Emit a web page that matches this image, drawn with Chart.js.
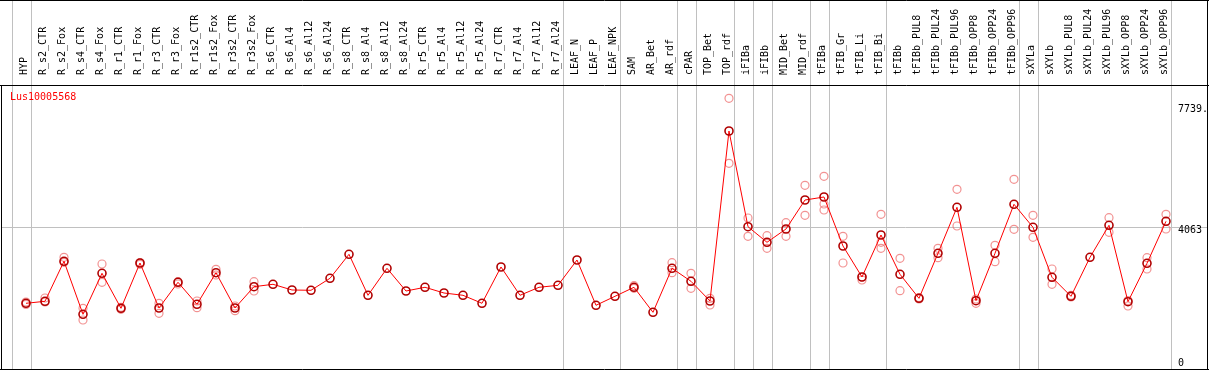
<!DOCTYPE html>
<html>
<head>
<meta charset="utf-8">
<script src="https://cdn.jsdelivr.net/npm/chart.js@4.4.0/dist/chart.umd.min.js"></script>
<style>
  body { margin: 0; background: #fff; }
  #wrap { width: 1209px; height: 370px; }
</style>
</head>
<body>
<div id="wrap"><canvas id="exprChart" width="1209" height="370"></canvas></div>
<script>
// sample names along the top
const categories = ['HYP', 'R_s2_CTR', 'R_s2_Fox', 'R_s4_CTR', 'R_s4_Fox', 'R_r1_CTR', 'R_r1_Fox',
  'R_r3_CTR', 'R_r3_Fox', 'R_r1s2_CTR', 'R_r1s2_Fox', 'R_r3s2_CTR', 'R_r3s2_Fox', 'R_s6_CTR',
  'R_s6_Al4', 'R_s6_Al12', 'R_s6_Al24', 'R_s8_CTR', 'R_s8_Al4', 'R_s8_Al12', 'R_s8_Al24',
  'R_r5_CTR', 'R_r5_Al4', 'R_r5_Al12', 'R_r5_Al24', 'R_r7_CTR', 'R_r7_Al4', 'R_r7_Al12',
  'R_r7_Al24', 'LEAF_N', 'LEAF_P', 'LEAF_NPK', 'SAM', 'AR_Bet', 'AR_rdf', 'cPAR', 'TOP_Bet',
  'TOP_rdf', 'iFIBa', 'iFIBb', 'MID_Bet', 'MID_rdf', 'tFIBa', 'tFIB_Gr', 'tFIB_Li', 'tFIB_Bi',
  'tFIBb', 'tFIBb_PUL8', 'tFIBb_PUL24', 'tFIBb_PUL96', 'tFIBb_OPP8', 'tFIBb_OPP24', 'tFIBb_OPP96',
  'sXYLa', 'sXYLb', 'sXYLb_PUL8', 'sXYLb_PUL24', 'sXYLb_PUL96', 'sXYLb_OPP8', 'sXYLb_OPP24',
  'sXYLb_OPP96'];

// how many samples sit in each group (separated by grey lines)
const groupSizes = [1, 28, 3, 3, 1, 2, 1, 1, 2, 1, 3, 7, 1, 7];

// mean expression per sample
const means = [1775, 1835, 3051, 1440, 2686, 1623, 2999, 1632, 2413, 1744, 2704, 1632, 2279, 2352,
  2179, 2170, 2534, 3263, 2018, 2838, 2148, 2261, 2087, 2018, 1775, 2878, 2018, 2261,
  2321, 3090, 1714, 1987, 2261, 1501, 2838, 2443, 1844,
  7010, 4102, 3628, 4032, 4913, 5005, 3516, 2574, 3850,
  2656, 1926, 3294, 4692, 1854, 3294, 4783,
  4084, 2565, 1987, 3172, 4145, 1823, 2990, 4266];

// replicate values (null where no replicate is shown)
const rep1 = [1814, 1936, 3172, 1623, 2969, 1653, 3008, 1775, 2431, 1844, 2808, 1692, 2431, null,
  null, null, null, null, null, null, null, null, null, null, null, null, null, null,
  null, null, null, null, 2309, null, 3008, 2686, 1926,
  8004, 4366, 3829, 4224, 5360, 5633, 3810, 2483, 4479,
  3142, 1951, 3446, 5239, 1775, 3537, 5542,
  4449, 2817, 2018, null, 4375, 1692, 3160, 4479];
const rep2 = [1738, 1814, 3020, 1267, 2413, 1592, 2960, 1471, 2361, 1641, 2634, 1550, 2148, null,
  null, null, null, null, null, null, null, null, null, null, null, null, null, null,
  null, null, null, null, 2230, null, 2704, 2230, 1723,
  6029, 3810, 3446, 3810, 4449, 4792, 2999, 2574, 3628,
  2157, 1905, 3160, 4123, 1905, 3039, 4023,
  3780, 2352, 1966, null, 3932, 1860, 2817, 4032];
const rep3 = [null, null, null, null, null, null, null, null, null, null, null, null, null, null,
  null, null, null, null, null, null, null, null, null, null, null, null, null, null,
  null, null, null, null, null, null, null, null, null,
  null, null, null, null, null, 4610, null, null, 3446,
  null, null, null, null, null, null, null,
  null, null, null, null, null, null, null, null];

const yTickValues = [0, 4063, 7739];
const yTickLabels = ['0', '4063', '7739.'];
const geneName = 'Lus10005568';

const MONO = '"DejaVu Sans Mono", "Liberation Mono", monospace';

function toPoints(arr) {
  return arr.map((v, i) => ({ x: i, y: v })).filter(p => p.y !== null);
}

function noPadding(scale) {
  scale.paddingLeft = 0;
  scale.paddingRight = 0;
  scale.paddingTop = 0;
  scale.paddingBottom = 0;
}

// frame, group separators, y labels and gene name
const decorPlugin = {
  id: 'decor',
  beforeDraw(chart) {
    const ctx = chart.ctx;
    ctx.save();
    ctx.fillStyle = '#fff';
    ctx.fillRect(0, 0, chart.width, chart.height);
    ctx.restore();
  },
  beforeDatasetsDraw(chart) {
    const ctx = chart.ctx;
    const xs = chart.scales.x;
    const area = chart.chartArea;
    ctx.save();
    ctx.strokeStyle = '#c0c0c0';
    ctx.lineWidth = 1;
    let idx = 0;
    const bounds = [-1];
    groupSizes.forEach(n => { idx += n; bounds.push(idx - 1); });
    bounds.forEach(b => {
      const px = Math.round(xs.getPixelForValue(b + 0.26)) + 0.5;
      ctx.beginPath();
      ctx.moveTo(px, 0);
      ctx.lineTo(px, area.bottom);
      ctx.stroke();
    });

    // frame
    ctx.strokeStyle = '#000';
    ctx.beginPath();
    ctx.moveTo(0, 0.5); ctx.lineTo(chart.width, 0.5);
    ctx.moveTo(0, area.top + 0.5); ctx.lineTo(chart.width, area.top + 0.5);
    ctx.moveTo(1.5, area.top); ctx.lineTo(1.5, area.bottom + 1);
    ctx.moveTo(0, area.bottom + 0.5); ctx.lineTo(chart.width, area.bottom + 0.5);
    ctx.moveTo(area.right + 0.5, 0); ctx.lineTo(area.right + 0.5, chart.height);
    ctx.stroke();

    // y tick labels inside the plot on the right
    const ys = chart.scales.y;
    ctx.fillStyle = '#000';
    ctx.font = '10px ' + MONO;
    ctx.textAlign = 'left';
    ctx.textBaseline = 'middle';
    yTickValues.forEach((v, i) => {
      ctx.fillText(yTickLabels[i], 1178, ys.getPixelForValue(v) + 2);
    });

    // gene id
    ctx.fillStyle = '#ff0000';
    ctx.fillText(geneName, 10, area.top + 12);
    ctx.restore();
  }
};

const ctx = document.getElementById('exprChart').getContext('2d');

const repStyle = {
  showLine: false,
  pointStyle: 'circle',
  pointRadius: 4,
  pointBorderWidth: 1.2,
  pointBorderColor: 'rgba(238, 110, 110, 0.75)',
  pointBackgroundColor: 'rgba(0,0,0,0)'
};

new Chart(ctx, {
  type: 'line',
  data: {
    datasets: [
      {
        label: 'mean',
        data: toPoints(means),
        borderColor: '#ff0000',
        borderWidth: 1,
        pointRadius: 4,
        pointBorderWidth: 1.6,
        pointBorderColor: '#b00000',
        pointBackgroundColor: 'rgba(0,0,0,0)',
        tension: 0
      },
      Object.assign({ label: 'rep1', data: toPoints(rep1) }, repStyle),
      Object.assign({ label: 'rep2', data: toPoints(rep2) }, repStyle),
      Object.assign({ label: 'rep3', data: toPoints(rep3) }, repStyle)
    ]
  },
  options: {
    responsive: false,
    animation: false,
    layout: { autoPadding: false, padding: { left: 1, right: 2, top: 0, bottom: 1 } },
    plugins: {
      legend: { display: false },
      tooltip: { enabled: false }
    },
    scales: {
      x: {
        type: 'linear',
        position: 'top',
        min: -1.3158,
        max: 62.158,
        afterBuildTicks: scale => {
          scale.ticks = categories.map((c, i) => ({ value: i }));
        },
        afterFit: scale => { scale.height = 85; noPadding(scale); },
        ticks: {
          autoSkip: false,
          minRotation: 90,
          maxRotation: 90,
          padding: 2,
          labelOffset: 10,
          color: '#000',
          font: { family: MONO, size: 10 },
          callback: v => categories[v]
        },
        grid: { display: false },
        border: { display: false }
      },
      y: {
        position: 'right',
        min: -222,
        max: 8408,
        afterBuildTicks: scale => {
          scale.ticks = yTickValues.map(v => ({ value: v }));
        },
        afterFit: scale => { scale.width = 0; noPadding(scale); },
        ticks: { display: false },
        grid: {
          drawTicks: false,
          color: c => (c.tick && c.tick.value === 4063 ? '#c0c0c0' : 'rgba(0,0,0,0)')
        },
        border: { display: false }
      }
    }
  },
  plugins: [decorPlugin]
});
</script>
</body>
</html>
